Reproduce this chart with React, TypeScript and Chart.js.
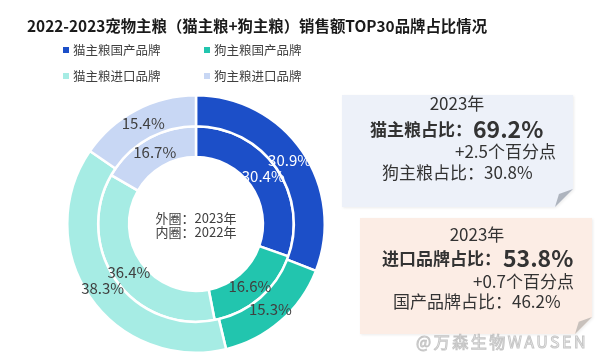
import { useEffect, useRef } from "react";
import { Chart, registerables } from "chart.js";

Chart.register(...registerables);

const categories = ["猫主粮国产品牌", "狗主粮国产品牌", "猫主粮进口品牌", "狗主粮进口品牌"];
const values2023 = [30.9, 15.3, 38.3, 15.4];
const values2022 = [30.4, 16.6, 36.4, 16.7];
const colors = ["#1C4FC8", "#22C5AE", "#A6ECE4", "#C8D7F4"];
const labelColors = ["#FFFFFF", "#404040", "#404040", "#404040"];
const ringNotes = ["外圈：2023年", "内圈：2022年"];
const titleText = "2022-2023宠物主粮（猫主粮+狗主粮）销售额TOP30品牌占比情况";
const catYear = "2023年";
const catLabel = "猫主粮占比：";
const catValue = "69.2%";
const catChange = "+2.5个百分点";
const dogShare = "狗主粮占比：30.8%";
const impYear = "2023年";
const impLabel = "进口品牌占比：";
const impValue = "53.8%";
const impChange = "+0.7个百分点";
const domShare = "国产品牌占比：46.2%";
const watermark = "@万森生物WAUSEN";

const FONT = '"Noto Sans CJK SC", "Noto Sans", sans-serif';

function drawBox(ctx: CanvasRenderingContext2D, x: number, y: number, w: number, h: number, fold: number, fill: string, foldFill: string) {
  const r = x + w;
  const b = y + h;
  ctx.save();
  ctx.shadowColor = "rgba(0,0,0,0.08)";
  ctx.shadowBlur = 3;
  ctx.shadowOffsetX = 1;
  ctx.shadowOffsetY = 1;
  ctx.fillStyle = fill;
  ctx.beginPath();
  ctx.moveTo(x, y);
  ctx.lineTo(r, y);
  ctx.lineTo(r, b - fold);
  ctx.lineTo(r - fold, b);
  ctx.lineTo(x, b);
  ctx.closePath();
  ctx.fill();
  ctx.restore();
  ctx.save();
  ctx.fillStyle = foldFill;
  ctx.beginPath();
  ctx.moveTo(r, b - fold);
  ctx.lineTo(r - fold, b);
  ctx.lineTo(r - fold * 0.78, b - fold * 0.72);
  ctx.closePath();
  ctx.fill();
  ctx.restore();
}

const overlayPlugin = {
  id: "overlay",
  afterDraw(chart: any) {
    const ctx: CanvasRenderingContext2D = chart.ctx;
    ctx.save();
    ctx.textBaseline = "middle";

    // Title
    ctx.fillStyle = "#1a1a1a";
    ctx.font = `bold 15.4px ${FONT}`;
    ctx.textAlign = "left";
    ctx.fillText(titleText, 27, 26);

    // Legend
    const legendPos = [
      [66, 50],
      [207, 50],
      [66, 76],
      [207, 76],
    ];
    ctx.font = `12.5px ${FONT}`;
    categories.forEach((c, i) => {
      const [lx, ly] = legendPos[i];
      ctx.fillStyle = colors[i];
      ctx.fillRect(lx - 3, ly - 3, 6, 6);
      ctx.fillStyle = "#404040";
      ctx.fillText(c, lx + 7, ly);
    });

    // Data labels
    ctx.textAlign = "center";
    ctx.font = `15px ${FONT}`;
    chart.data.datasets.forEach((ds: any, di: number) => {
      const meta = chart.getDatasetMeta(di);
      meta.data.forEach((arc: any, i: number) => {
        const p = arc.tooltipPosition();
        ctx.fillStyle = labelColors[i];
        ctx.fillText(ds.data[i].toFixed(1) + "%", p.x, p.y);
      });
    });

    // Center notes
    const cx = (chart.chartArea.left + chart.chartArea.right) / 2;
    const cy = (chart.chartArea.top + chart.chartArea.bottom) / 2;
    ctx.fillStyle = "#404040";
    ctx.font = `13px ${FONT}`;
    ctx.fillText(ringNotes[0], cx, cy - 6);
    ctx.fillText(ringNotes[1], cx, cy + 8);

    // Box 1
    drawBox(ctx, 342, 95, 231, 112, 18, "#EDF1F9", "#AEB4BE");
    ctx.fillStyle = "#333333";
    ctx.textAlign = "center";
    ctx.font = `17px ${FONT}`;
    ctx.fillText(catYear, 457, 104);
    ctx.textAlign = "left";
    ctx.font = `bold 17px ${FONT}`;
    ctx.fillText(catLabel, 370, 130);
    ctx.font = `bold 23px ${FONT}`;
    ctx.fillText(catValue, 473, 129);
    ctx.font = `17px ${FONT}`;
    ctx.fillText(catChange, 455, 152);
    ctx.fillText(dogShare, 382, 173);

    // Box 2
    drawBox(ctx, 360, 218, 232, 116, 17, "#FCEDE5", "#C8C1BC");
    ctx.fillStyle = "#333333";
    ctx.textAlign = "center";
    ctx.font = `17px ${FONT}`;
    ctx.fillText(impYear, 477, 235);
    ctx.textAlign = "left";
    ctx.font = `bold 17px ${FONT}`;
    ctx.fillText(impLabel, 382, 259);
    ctx.font = `bold 23px ${FONT}`;
    ctx.fillText(impValue, 503, 258);
    ctx.font = `17px ${FONT}`;
    ctx.fillText(impChange, 473, 282);
    ctx.fillText(domShare, 393, 302);

    // Watermark
    ctx.font = `16px ${FONT}`;
    (ctx as any).letterSpacing = "2.5px";
    ctx.lineWidth = 1;
    ctx.strokeStyle = "rgba(150,150,150,0.55)";
    ctx.fillStyle = "rgba(255,255,255,0.85)";
    ctx.fillText(watermark, 416, 342);
    ctx.strokeText(watermark, 416, 342);

    ctx.restore();
  },
};

export default function App() {
  const ref = useRef<HTMLCanvasElement | null>(null);
  useEffect(() => {
    document.body.style.margin = "0";
    document.body.style.background = "#ffffff";
    if (!ref.current) return;
    const chart = new Chart(ref.current, {
      type: "doughnut",
      data: {
        labels: categories,
        datasets: [
          { label: "2023", data: values2023, backgroundColor: colors, borderColor: "#ffffff", borderWidth: 2.5 },
          { label: "2022", data: values2022, backgroundColor: colors, borderColor: "#ffffff", borderWidth: 2.5 },
        ],
      },
      options: {
        responsive: false,
        animation: false,
        cutout: "52%",
        layout: { padding: { left: 66, right: 274, top: 94, bottom: 7 } },
        plugins: {
          legend: { display: false },
          title: { display: false },
          tooltip: { enabled: false },
        },
      },
      plugins: [overlayPlugin],
    });
    return () => chart.destroy();
  }, []);
  return (
    <div style={{ width: 600, height: 361, background: "#fff" }}>
      <canvas ref={ref} width={600} height={361} style={{ display: "block" }} />
    </div>
  );
}
